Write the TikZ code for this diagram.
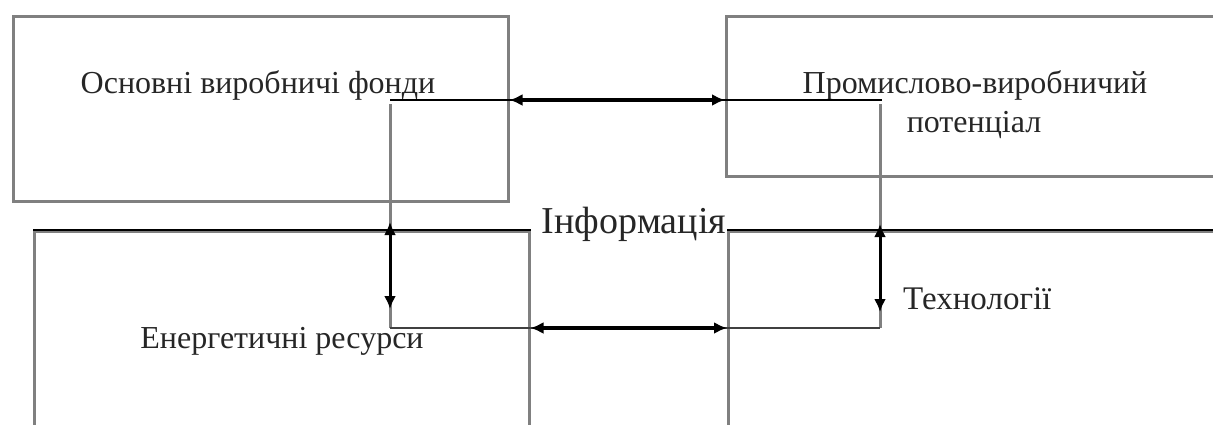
\documentclass[tikz,border=0pt]{standalone}
\usepackage{fontspec}
\setmainfont{Liberation Serif}
\usetikzlibrary{arrows.meta}

\begin{document}
\begin{tikzpicture}[x=1pt,y=-1pt,
  frame/.style={draw=black!50, line width=2.5pt, inner sep=0pt, anchor=north west},
  lbl/.style={text=black!85, inner sep=0pt, font=\fontsize{32}{39}\selectfont},
  topedge/.style={draw=black, line width=2.8pt},
  link/.style={draw=black, line width=2.2pt},
  riser/.style={draw=black!50, line width=3pt},
  lowlink/.style={draw=black!75, line width=2.2pt},
  flow/.style={draw=black, line width=3.5pt,
    {Latex[length=13pt,width=12pt]}-{Latex[length=13pt,width=12pt]}},
]
\useasboundingbox (0,0) rectangle (1213,424);
\clip (0,0) rectangle (1213,424);

% boxes
\node[frame, minimum width=495pt, minimum height=185pt] (osn) at (12,15) {};
\node[frame, minimum width=500pt, minimum height=160pt] (prom) at (725,15) {};
\node[frame, minimum width=495pt, minimum height=230pt] (energ) at (33,230) {};
\node[frame, minimum width=520pt, minimum height=230pt] (tech) at (727,230) {};
\draw[topedge] (energ.north west) -- (energ.north east);
\draw[topedge] (tech.north west) -- (tech.north east);

% labels
\node[lbl, anchor=base] (osnT) at (258,93) {Основні виробничі фонди};
\node[lbl, anchor=base] (promT1) at (975,93) {Промислово-виробничий};
\node[lbl, anchor=base] (promT2) at (974,132) {потенціал};
\node[lbl, anchor=base] (energT) at (282,348) {Енергетичні ресурси};
\node[lbl, anchor=base, font=\fontsize{38}{44}\selectfont] (infoT) at (634,233) {Інформація};
\node[lbl, anchor=base west, font=\fontsize{33}{40}\selectfont] (techT) at (903,309) {Технології};

% connector corners
\coordinate (ul) at (390,100);
\coordinate (ur) at (882,100);
\coordinate (ll) at (390,328);
\coordinate (lr) at (880,328);

% upper and lower runs
\draw[link] (ul) -- (ur);
\draw[riser] (ul) ++(0,4) -- (ll);
\draw[riser] (ur) ++(-2,4) -- (lr);
\draw[lowlink] (ll) -- (lr);

% double arrows between the boxes
\draw[flow] (osn.east |- ul) -- (prom.west |- ul);
\draw[flow] (energ.east |- ll) -- (tech.west |- ll);

% vertical double arrows
\coordinate (la) at (390,222);
\coordinate (lb) at (390,309);
\coordinate (ra) at (880,224);
\coordinate (rb) at (880,312);
\draw[flow, line width=3pt] (la) -- (lb);
\draw[flow, line width=3pt] (ra) -- (rb);
\end{tikzpicture}
\end{document}
